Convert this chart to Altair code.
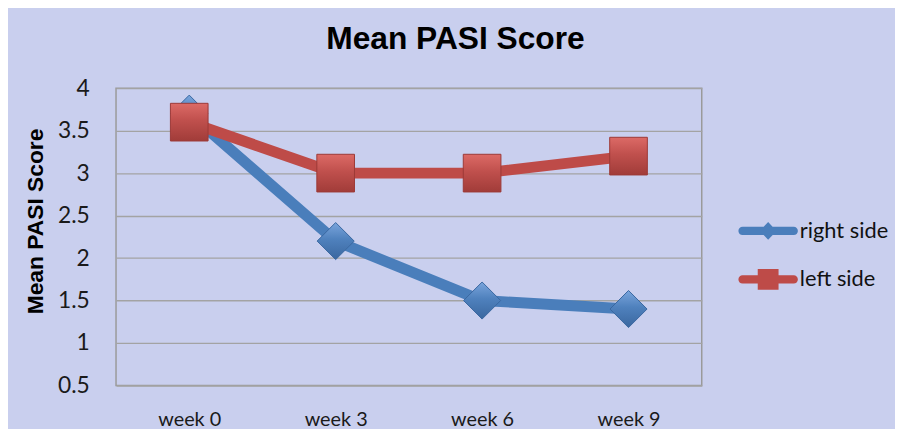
import altair as alt
import pandas as pd

weeks = ["week 0", "week 3", "week 6", "week 9"]
right_side = [3.7, 2.2, 1.5, 1.4]
left_side = [3.6, 3.0, 3.0, 3.2]
series_names = ["right side", "left side"]
y_ticks = [0.5, 1, 1.5, 2, 2.5, 3, 3.5, 4]

line_colors = ["#4a7ebb", "#be4b48"]
marker_stops = [["#7aa5dc", "#4f81bd", "#3a679f"], ["#dc6a66", "#c0504d", "#a13c39"]]
marker_stroke = ["#3a67a0", "#9c3a37"]

rows = []
for w, r, l in zip(weeks, right_side, left_side):
    rows.append({"week": w, "series": series_names[0], "value": r})
    rows.append({"week": w, "series": series_names[1], "value": l})
df = pd.DataFrame(rows)

bar = "M-2.58,-0.42L2.58,-0.42A0.42,0.42 0 0 1 2.58,0.42L-2.58,0.42A0.42,0.42 0 0 1 -2.58,-0.42Z"
legend_paths = [
    bar + " M0,-0.9L0.85,0L0,0.9L-0.85,0Z",
    bar + " M-1.05,-1.05L1.05,-1.05L1.05,1.05L-1.05,1.05Z",
]

x_enc = alt.X("week:N", sort=weeks, scale=alt.Scale(type="point", padding=0.5),
              axis=alt.Axis(title=None, labelAngle=0, ticks=False, domain=False, grid=False,
                            labelFont="Lato", labelFontSize=20, labelColor="#1a1a1a",
                            labelPadding=24))
y_enc = alt.Y("value:Q", scale=alt.Scale(domain=[0.5, 4], nice=False, zero=False),
              axis=alt.Axis(title="Mean PASI Score", values=y_ticks, format="~g",
                            ticks=False, tickSize=0, domain=False, grid=True,
                            gridColor="#a3a3a3", gridWidth=1.3,
                            labelFont="Lato", labelFontSize=23, labelColor="#1a1a1a",
                            labelPadding=27,
                            titleFont="Liberation Sans", titleFontSize=23, titleFontWeight="bold",
                            titleColor="#000000", titleX=-69, titleY=134, titleAngle=270))

base = alt.Chart(df)
layers = []
shapes = ["diamond", "square"]
sizes = [1400, 1444]
for i, name in enumerate(series_names):
    sub = base.transform_filter(alt.datum.series == name)
    grad = alt.LinearGradient(
        gradient="linear", x1=0, x2=0, y1=0, y2=1,
        stops=[alt.GradientStop(offset=0, color=marker_stops[i][0]),
               alt.GradientStop(offset=0.45, color=marker_stops[i][1]),
               alt.GradientStop(offset=1, color=marker_stops[i][2])])
    layers.append(sub.mark_line(strokeWidth=11, color=line_colors[i], strokeCap="butt")
                  .encode(x=x_enc, y=y_enc))
    layers.append(sub.mark_point(filled=True, shape=shapes[i], size=sizes[i],
                                 fill=grad, stroke=marker_stroke[i],
                                 strokeWidth=1, opacity=1)
                  .encode(x=x_enc, y=y_enc))

leg = alt.Legend(title=None, orient="none", legendX=647, legendY=133,
                 symbolSize=400, symbolStrokeWidth=0, labelOffset=21,
                 labelFont="Lato", labelFontSize=22, labelColor="#111111",
                 rowPadding=27, padding=0)
legend_layer = base.transform_filter(alt.datum.value < -100).mark_point(
    filled=True, size=400, strokeWidth=0, opacity=1
).encode(
    color=alt.Color("series:N", scale=alt.Scale(domain=series_names, range=line_colors),
                    legend=leg),
    shape=alt.Shape("series:N", scale=alt.Scale(domain=series_names, range=legend_paths),
                    legend=leg),
)
layers.append(legend_layer)

chart = alt.layer(*layers).properties(
    width=591, height=300,
    title=alt.TitleParams("Mean PASI Score", font="Liberation Sans", fontSize=32,
                          fontWeight="bold", color="#000000", anchor="middle", dx=47, offset=22),
    padding={"left": 109, "top": 79, "right": 195, "bottom": 42},
    autosize=alt.AutoSizeParams(type="none"),
).configure(background="#c9cfee").configure_view(
    fill="white", stroke="#9a9a9a", strokeWidth=1.5
)

chart.save("out.html", embed_options={"renderer": "svg", "actions": False})
